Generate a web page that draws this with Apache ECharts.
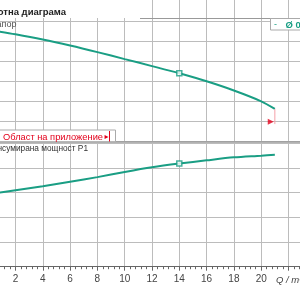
<!DOCTYPE html>
<html><head><meta charset="utf-8">
<script src="https://cdn.jsdelivr.net/npm/echarts@6/dist/echarts.min.js"></script>
<style>html,body{margin:0;padding:0;background:#fff}#c{width:300px;height:300px}</style>
</head><body><div id="c"></div>
<script>
var flowQ = [0, 2, 4, 6, 8, 10, 12, 14, 16, 18, 20, 21];
var headH = [5.60, 5.37, 5.11, 4.81, 4.48, 4.13, 3.78, 3.42, 3.02, 2.56, 2.02, 1.64];
var powerP1 = [2.93, 3.10, 3.26, 3.44, 3.63, 3.84, 4.03, 4.18, 4.31, 4.43, 4.50, 4.54];
var dutyQ = 14, dutyH = 3.42, dutyP = 4.18;
var limitQ = 21, limitTop = 1.63, limitBottom = 0.88;
var triQ = 20.7, triH = 1.0;
var xTicks = ['2','4','6','8','10','12','14','16','18','20'];

var teal = '#1a9e84', red = '#e3001b', gridC = '#bcbcbc';
var font = 'Liberation Sans, Arial, sans-serif';
var chart = echarts.init(document.getElementById('c'), null, {renderer:'canvas'});
function xa(idx, labels){
  return {type:'value', gridIndex:idx, min:0, max:24, interval:2,
    axisLine:{show: idx!==2, onZero:false, lineStyle:{color: idx===1?'#666':'#999', width: idx===1?1:1.5}},
    axisTick:{show: idx===1, length:4, lineStyle:{color:'#666'}},
    minorTick:{show: idx===1, splitNumber:5, length:2.5, lineStyle:{color:'#666'}},
    axisLabel:{show: labels, color:'#444', fontSize:10, fontFamily:font, margin:8,
      formatter:function(v){ var s=String(v); return xTicks.indexOf(s)>=0 ? s : ''; }},
    splitLine:{show:true, lineStyle:{color:gridC, width:1}}};
}
function ya(idx, max, split){
  return {type:'value', gridIndex:idx, min:0, max:max, interval:1,
    axisLabel:{show:false}, axisLine:{show:false}, axisTick:{show:false},
    splitLine:{show:split, lineStyle:{color:gridC, width:1}}};
}
function pairs(xs, ys){ return xs.map(function(x,i){return [x, ys[i]];}); }
var W = 24*13.65, L = -11.8;
function g(top, h){ return {left:L, width:W, top:top, height:h, outerBoundsMode:'none'}; }
chart.setOption({
  animation:false,
  grid:[g(21.7,120), g(143.3,123.4), g(0,21.7)],
  xAxis:[xa(0,false), xa(1,true), xa(2,false)],
  yAxis:[ya(0,6,true), ya(1,5,true), ya(2,1,false)],
  series:[
    {type:'line', xAxisIndex:0, yAxisIndex:0, data:pairs(flowQ, headH), smooth:0.3, showSymbol:false,
      lineStyle:{color:teal, width:2}},
    {type:'line', xAxisIndex:1, yAxisIndex:1, data:pairs(flowQ, powerP1), smooth:0.3, showSymbol:false,
      lineStyle:{color:teal, width:2}},
    {type:'line', xAxisIndex:2, yAxisIndex:2, data:[], showSymbol:false},
    {type:'line', xAxisIndex:0, yAxisIndex:0, data:[[limitQ, limitTop],[limitQ, limitBottom]], showSymbol:false,
      lineStyle:{color:'#f5a0a8', width:1}},
    {type:'scatter', xAxisIndex:0, yAxisIndex:0, data:[[triQ, triH]], symbol:'triangle', symbolRotate:-90,
      symbolSize:6, itemStyle:{color:red}},
    {type:'scatter', xAxisIndex:0, yAxisIndex:0, data:[[dutyQ, dutyH]], symbol:'rect', symbolSize:5,
      itemStyle:{color:'#fff', borderColor:teal, borderWidth:1.5}, z:5},
    {type:'scatter', xAxisIndex:1, yAxisIndex:1, data:[[dutyQ, dutyP]], symbol:'rect', symbolSize:5,
      itemStyle:{color:'#fff', borderColor:teal, borderWidth:1.5}, z:5}
  ],
  graphic:[
    {type:'rect', shape:{x:0, y:0, width:140, height:18}, style:{fill:'#fff'}, z:10},
    {type:'line', shape:{x1:140, y1:18.5, x2:300, y2:18.5}, style:{stroke:'#999', lineWidth:1.2}, z:10},
    {type:'text', x:66, y:12, style:{text:'Работна диаграма', fontFamily:font, fontWeight:'bold', fontSize:9.5,
      fill:'#222', align:'right', verticalAlign:'middle'}, z:11},
    {type:'text', x:16.5, y:25, style:{text:'Напор', fontFamily:font, fontSize:9, fill:'#555', align:'right', verticalAlign:'middle'}, z:11},
    {type:'rect', shape:{x:270.5, y:18.5, width:40, height:11.5}, style:{fill:'#fff', stroke:'#aaa', lineWidth:1}, z:10},
    {type:'text', x:274, y:25, style:{text:'-', fontFamily:font, fontSize:9, fill:teal, verticalAlign:'middle'}, z:11},
    {type:'text', x:285.5, y:25, style:{text:'Ø 0.5', fontFamily:font, fontSize:9.5, fontWeight:'bold', fill:teal, verticalAlign:'middle'}, z:11},
    {type:'rect', shape:{x:-5, y:130, width:120.5, height:11.7}, style:{fill:'#fff', stroke:'#aaa', lineWidth:1}, z:10},
    {type:'text', x:3, y:137, style:{text:'Област на приложение', fontFamily:font, fontSize:9.3, fill:red, verticalAlign:'middle'}, z:11},
    {type:'text', x:104.5, y:136.5, style:{text:'▸', fontFamily:'DejaVu Sans', fontSize:8, fill:red, verticalAlign:'middle'}, z:11},
    {type:'line', shape:{x1:109.5, y1:131, x2:109.5, y2:141.5}, style:{stroke:red, lineWidth:1}, z:11},
    {type:'text', x:88, y:148.5, style:{text:'Консумирана мощност P1', fontFamily:font, fontSize:8.3, fill:'#333', align:'right', verticalAlign:'middle'}, z:11},
    {type:'text', x:276, y:280, style:{text:'Q / m³/h', fontFamily:font, fontSize:9.5, fontStyle:'italic', fill:'#444', verticalAlign:'middle'}, z:11}
  ]
});
</script></body></html>
